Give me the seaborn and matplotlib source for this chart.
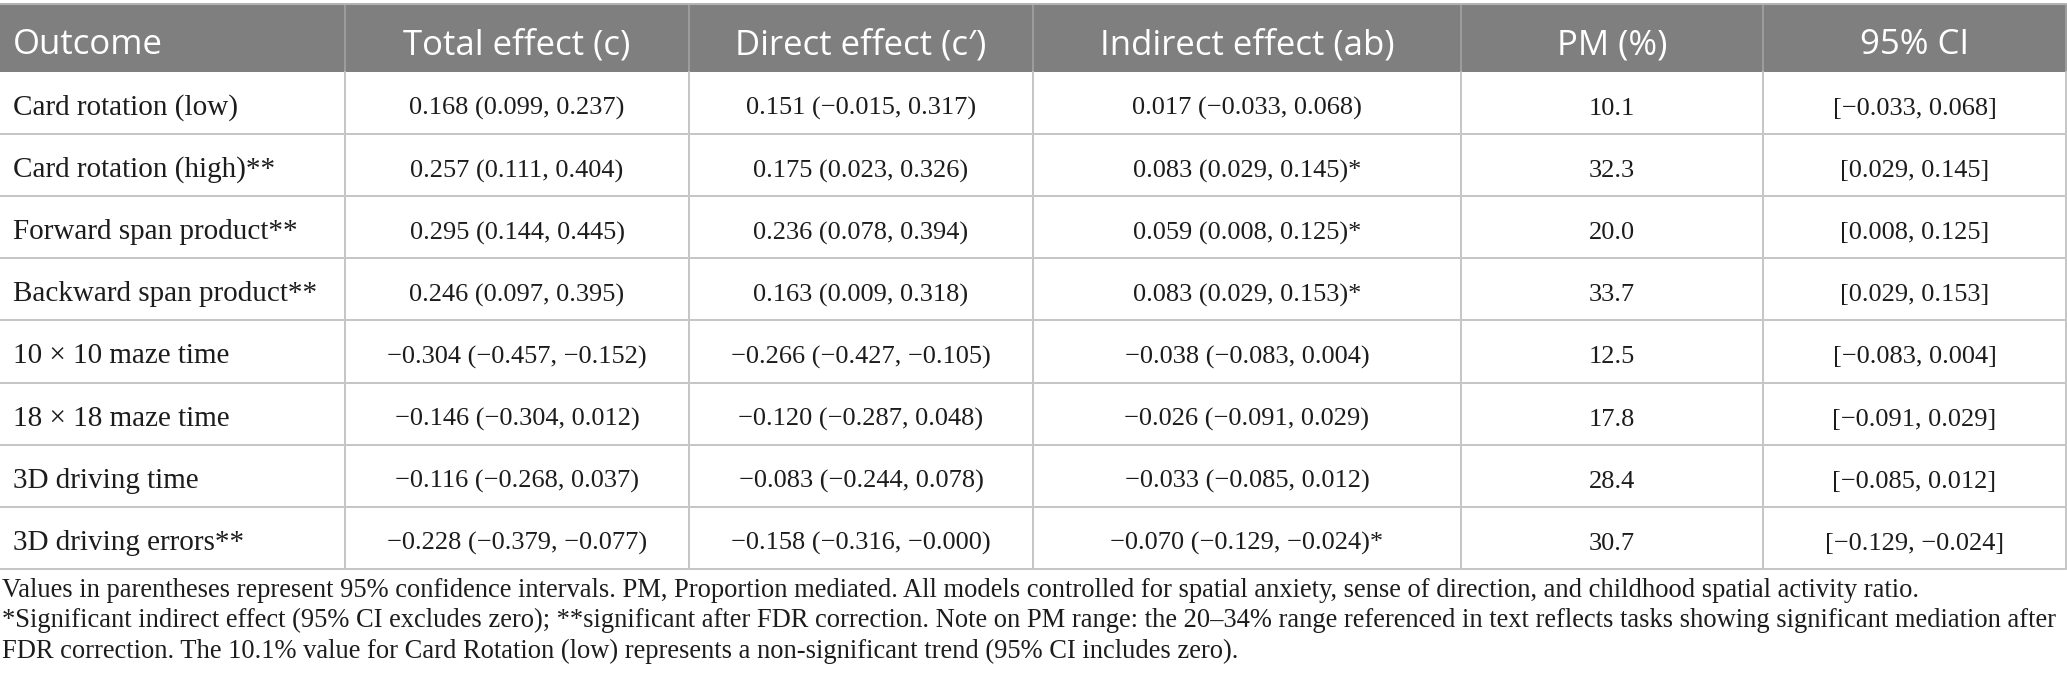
import matplotlib
matplotlib.use("Agg")
import matplotlib.pyplot as plt
from matplotlib.patches import Rectangle
import seaborn as sns

# ---------------- data ----------------
headers = ["Outcome", "Total effect (c)", "Direct effect (c′)", "Indirect effect (ab)", "PM (%)", "95% CI"]
outcomes = ["Card rotation (low)", "Card rotation (high)**", "Forward span product**",
            "Backward span product**", "10 × 10 maze time", "18 × 18 maze time",
            "3D driving time", "3D driving errors**"]
total_est = [0.168, 0.257, 0.295, 0.246, -0.304, -0.146, -0.116, -0.228]
total_lo = [0.099, 0.111, 0.144, 0.097, -0.457, -0.304, -0.268, -0.379]
total_hi = [0.237, 0.404, 0.445, 0.395, -0.152, 0.012, 0.037, -0.077]
direct_est = [0.151, 0.175, 0.236, 0.163, -0.266, -0.120, -0.083, -0.158]
direct_lo = [-0.015, 0.023, 0.078, 0.009, -0.427, -0.287, -0.244, -0.316]
direct_hi = [0.317, 0.326, 0.394, 0.318, -0.105, 0.048, 0.078, -0.0]
indirect_est = [0.017, 0.083, 0.059, 0.083, -0.038, -0.026, -0.033, -0.070]
indirect_lo = [-0.033, 0.029, 0.008, 0.029, -0.083, -0.091, -0.085, -0.129]
indirect_hi = [0.068, 0.145, 0.125, 0.153, 0.004, 0.029, 0.012, -0.024]
indirect_sig = [False, True, True, True, False, False, False, True]
pm_pct = [10.1, 32.3, 20.0, 33.7, 12.5, 17.8, 28.4, 30.7]
footnotes = [
    "Values in parentheses represent 95% confidence intervals. PM, Proportion mediated. All models controlled for spatial anxiety, sense of direction, and childhood spatial activity ratio.",
    "*Significant indirect effect (95% CI excludes zero); **significant after FDR correction. Note on PM range: the 20–34% range referenced in text reflects tasks showing significant mediation after",
    "FDR correction. The 10.1% value for Card Rotation (low) represents a non-significant trend (95% CI includes zero).",
]


def f3(v):
    return f"{v:.3f}".replace("-", "\u2212")


def est_ci(e, lo, hi, star=False):
    return f"{f3(e)} ({f3(lo)}, {f3(hi)})" + ("*" if star else "")


cells = []
for i in range(len(outcomes)):
    cells.append([
        outcomes[i],
        est_ci(total_est[i], total_lo[i], total_hi[i]),
        est_ci(direct_est[i], direct_lo[i], direct_hi[i]),
        est_ci(indirect_est[i], indirect_lo[i], indirect_hi[i], indirect_sig[i]),
        f"{pm_pct[i]:.1f}",
        f"[{f3(indirect_lo[i])}, {f3(indirect_hi[i])}]",
    ])

# ---------------- style ----------------
sns.set_theme(style="white")
plt.rcParams["font.family"] = ["Liberation Serif", "DejaVu Serif"]

W, H = 2067, 696
fig = plt.figure(figsize=(W / 100, H / 100), dpi=100)
ax = fig.add_axes([0, 0, 1, 1])
ax.set_xlim(0, W)
ax.set_ylim(H, 0)
ax.axis("off")

col_edges = [0, 345, 689, 1033, 1461, 1763, 2066]
head_top, head_bot = 4, 72
row_h = 62.1
n = len(outcomes)
table_bot = head_bot + n * row_h

HEAD_BG = "#7f7f7f"
LINE = "#c6c6c6"
TXT = "#1c1c1c"
px = 0.72  # points per pixel
HEAD_FONT = ["Open Sans", "DejaVu Sans"]

# header background
ax.add_patch(Rectangle((col_edges[0], head_top), col_edges[-1] - col_edges[0],
                       head_bot - head_top, facecolor=HEAD_BG, edgecolor="none", zorder=1))
ax.plot([col_edges[0], col_edges[-1]], [head_top, head_top], color="#b4b4b4", lw=2 * px, zorder=3)
# vertical lines
for x in col_edges[1:]:
    ax.plot([x, x], [head_top, head_bot], color="#9c9c9c", lw=2 * px, zorder=2)
    ax.plot([x, x], [head_bot, table_bot], color=LINE, lw=2 * px, zorder=2)
# horizontal lines
for i in range(1, n + 1):
    y = head_bot + i * row_h
    ax.plot([col_edges[0], col_edges[-1]], [y, y], color=LINE, lw=2 * px, zorder=2)

# header text
yb = (head_top + head_bot) / 2 + 16.5
for j, h in enumerate(headers):
    if j == 0:
        ax.text(col_edges[0] + 13, yb, h, ha="left", va="baseline", color="white",
                fontsize=25, family=HEAD_FONT, zorder=4)
    else:
        ax.text((col_edges[j] + col_edges[j + 1]) / 2, yb, h, ha="center", va="baseline",
                color="white", fontsize=25, family=HEAD_FONT, zorder=4)

# body text
for i, row in enumerate(cells):
    yc = head_bot + (i + 0.5) * row_h
    ybl = yc + 12
    for j, txt in enumerate(row):
        if j == 0:
            ax.text(col_edges[0] + 13, ybl, txt, ha="left", va="baseline", color=TXT,
                    fontsize=21, zorder=4)
        else:
            ax.text((col_edges[j] + col_edges[j + 1]) / 2, ybl, txt, ha="center", va="baseline",
                    color=TXT, fontsize=19, zorder=4)

# footnotes
fn_size = 16.0
probe = ax.text(0, 0, footnotes[1], fontsize=fn_size)
fig.canvas.draw()
wpx = probe.get_window_extent().width
probe.remove()
fn_size = fn_size * 2060 / wpx
for k, line in enumerate(footnotes):
    ax.text(2, table_bot + 28 + k * 30.5, line, ha="left", va="baseline", color=TXT,
            fontsize=fn_size, zorder=4)

fig.savefig("out.png", dpi=100, facecolor="white")
